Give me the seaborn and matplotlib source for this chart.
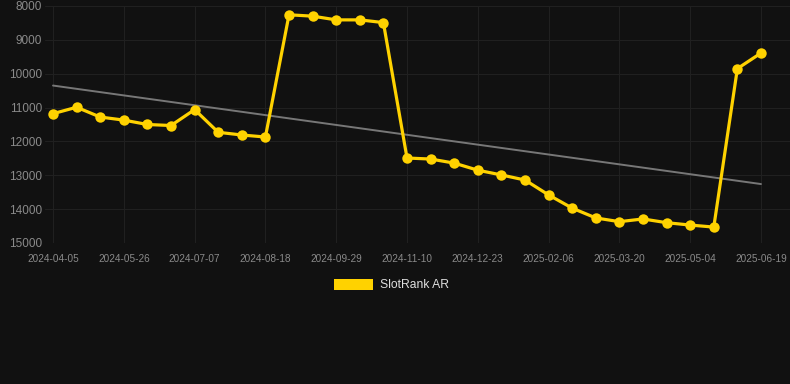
import numpy as np
import pandas as pd
import matplotlib
matplotlib.use("Agg")
import matplotlib.pyplot as plt
from matplotlib.patches import Patch
import seaborn as sns

# rank values (31 points, categorical x axis)
ranks = [11180, 10990, 11280, 11370, 11500, 11530, 11060, 11730, 11810, 11870,
         8260, 8300, 8410, 8410, 8490,
         12490, 12520, 12640, 12850, 12990, 13140, 13580, 13970, 14260, 14370,
         14290, 14400, 14470, 14530,
         9850, 9390]
tick_labels = ["2024-04-05", "2024-05-26", "2024-07-07", "2024-08-18", "2024-09-29",
               "2024-11-10", "2024-12-23", "2025-02-06", "2025-03-20", "2025-05-04",
               "2025-06-19"]
y_ticks = [8000, 9000, 10000, 11000, 12000, 13000, 14000, 15000]
series_name = "SlotRank AR"

bg = "#111111"
gold = "#FFD200"

df = pd.DataFrame({"idx": np.arange(len(ranks)), "rank": ranks})

sns.set_theme(style="dark")
plt.rcParams["font.family"] = ["Liberation Sans", "DejaVu Sans"]

fig = plt.figure(figsize=(7.9, 3.84), dpi=100, facecolor=bg)
ax = fig.add_axes([45 / 790, 1 - 243 / 384, 745 / 790, 237 / 384])
ax.set_facecolor(bg)

# linear trend
coef = np.polyfit(df["idx"], df["rank"], 1)
trend = np.polyval(coef, df["idx"])
ax.plot(df["idx"], trend, color="#777777", lw=1.4, zorder=2)

sns.lineplot(data=df, x="idx", y="rank", ax=ax, color=gold, lw=2.3,
             marker="o", markersize=7.5, markeredgewidth=0, zorder=3)

ax.set_ylim(15000, 8000)
ax.set_xlim(-0.34, 31.23)
ax.set_yticks(y_ticks)
ax.set_yticklabels([str(v) for v in y_ticks])
ax.set_xticks(np.arange(0, len(ranks), 3))
ax.set_xticklabels(tick_labels)
ax.set_xlabel("")
ax.set_ylabel("")

ax.grid(True, color="#202020", lw=0.8)
for s in ax.spines.values():
    s.set_visible(False)
ax.tick_params(axis="x", colors="#202020", length=5, width=0.8, pad=3,
               labelcolor="#8a8a8a", labelsize=7.2)
ax.tick_params(axis="y", length=0, pad=2, labelcolor="#8a8a8a", labelsize=8.5)

fig.legend(handles=[Patch(facecolor=gold, edgecolor="none", label=series_name)],
           loc="center", bbox_to_anchor=(0.495, 1 - 285 / 384), frameon=False,
           fontsize=8.7, labelcolor="#dddddd", handlelength=3.3, handleheight=1.0,
           handletextpad=0.5)

fig.savefig("out.png", dpi=100, facecolor=bg)
